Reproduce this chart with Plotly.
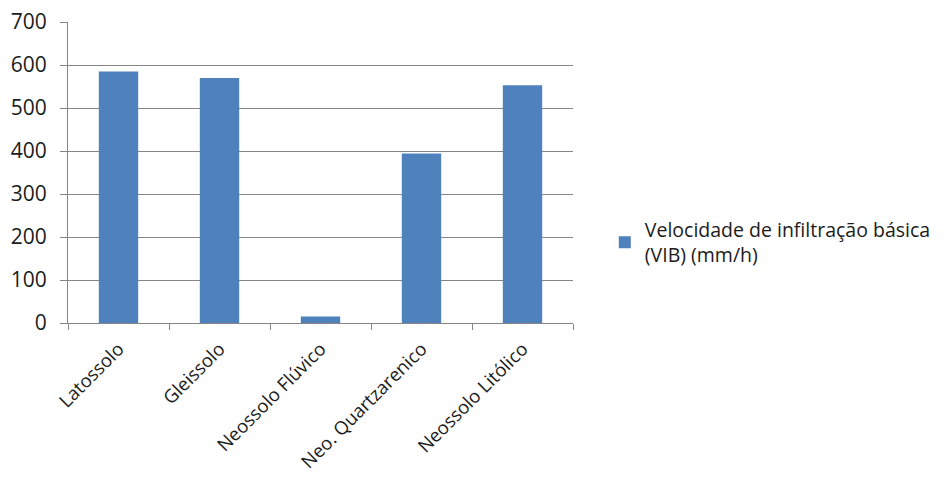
import plotly.graph_objects as go

# Soil classes and their basic infiltration rate (mm/h)
solos = ["Latossolo", "Gleissolo", "Neossolo Flúvico", "Neo. Quartzarenico", "Neossolo Litólico"]
vib = [585, 570, 15, 394, 553]
serie_nome = "Velocidade de infiltração básica<br>(VIB) (mm/h)"
y_ticks = [0, 100, 200, 300, 400, 500, 600, 700]

AZUL = "#4F81BD"
CINZA = "#868686"
TEXTO = "#1c1c1c"
FONTE = "Open Sans, DejaVu Sans, sans-serif"

fig = go.Figure(
    go.Bar(
        x=solos,
        y=vib,
        name=serie_nome,
        marker=dict(color=AZUL, line=dict(width=0)),
        showlegend=True,
    )
)

fig.update_layout(
    width=944,
    height=483,
    margin=dict(l=68, r=371, t=22, b=160, autoexpand=False),
    paper_bgcolor="white",
    plot_bgcolor="white",
    bargap=0.61,
    font=dict(family=FONTE, color=TEXTO),
    showlegend=True,
    legend=dict(
        x=1.063,
        y=0.268,
        xanchor="left",
        yanchor="middle",
        font=dict(size=19.5, family=FONTE, color=TEXTO),
        bgcolor="rgba(0,0,0,0)",
        itemwidth=30,
    ),
)

fig.update_xaxes(
    type="category",
    automargin=False,
    showline=True,
    linecolor=CINZA,
    linewidth=1,
    ticks="outside",
    tickson="boundaries",
    ticklen=6,
    tickcolor=CINZA,
    tickangle=-45,
    ticklabelstandoff=7,
    tickfont=dict(size=18.5, family=FONTE, color=TEXTO),
    showgrid=False,
)

fig.update_yaxes(
    range=[0, 700],
    tickvals=y_ticks,
    automargin=False,
    showline=True,
    linecolor=CINZA,
    linewidth=1,
    ticks="outside",
    ticklen=7,
    tickcolor=CINZA,
    ticklabelstandoff=9,
    showgrid=True,
    gridcolor=CINZA,
    gridwidth=1,
    zeroline=False,
    tickfont=dict(size=21, family=FONTE, color=TEXTO),
)

fig.write_html("out.html")
